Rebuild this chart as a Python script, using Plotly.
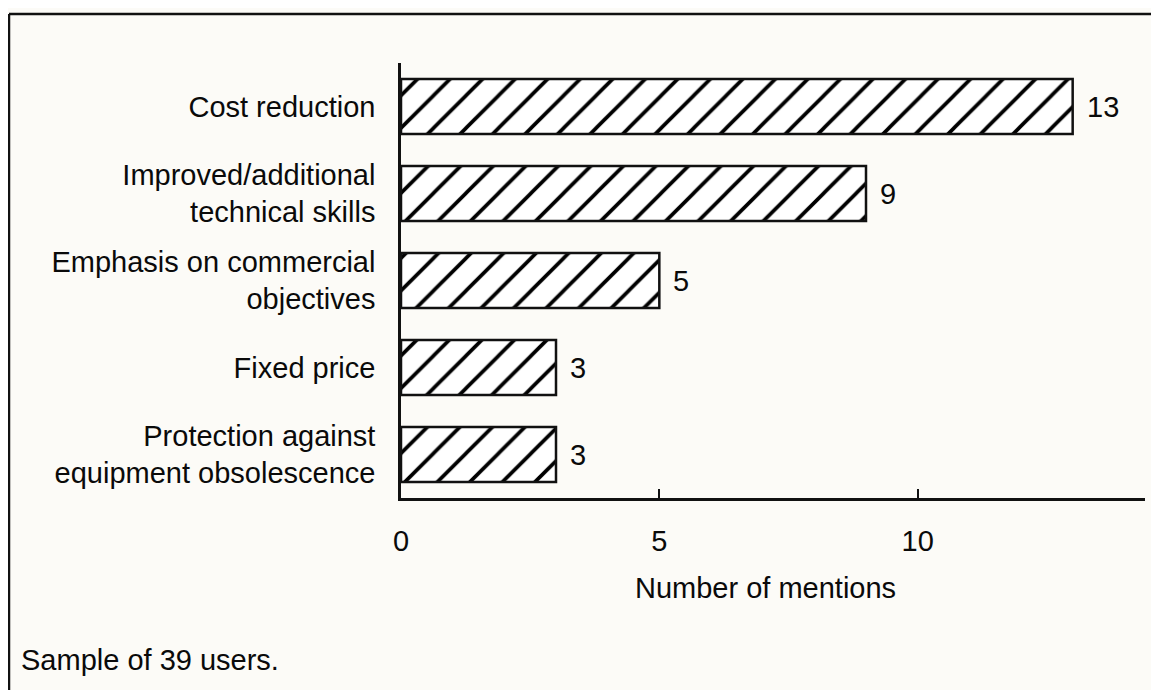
import plotly.graph_objects as go

# data
categories = [
    "Cost reduction",
    "Improved/additional<br>technical skills",
    "Emphasis on commercial<br>objectives",
    "Fixed price",
    "Protection against<br>equipment obsolescence",
]
mentions = [13, 9, 5, 3, 3]
tick_vals = [0, 5, 10]
x_title = "Number of mentions"
footnote = "Sample of 39 users."

W, H = 1159, 690
OFF = 8  # page body margin shifts the figure by this much
L, T = 401 - OFF, 63 - OFF
R = W - (1145 - OFF)
B = H - (498 - OFF)
FONT = dict(family="Liberation Sans, Arial, Helvetica, sans-serif", size=29, color="#0a0a0a")
BG = "#fcfbf7"


def px_x(px):
    # screen pixel -> paper x
    return (px - OFF - L) / (W - L - R)


def px_y(py):
    # screen pixel -> paper y
    return (H - B - (py - OFF)) / (H - T - B)


fig = go.Figure()
fig.add_trace(go.Bar(
    y=categories,
    x=mentions,
    orientation="h",
    width=0.63,
    marker=dict(
        color="white",
        line=dict(color="#111111", width=2.5),
        pattern=dict(shape="/", fgcolor="#000000", bgcolor="white",
                     fgopacity=1, size=23, solidity=0.16),
    ),
    hoverinfo="x+y",
    showlegend=False,
))

# value labels at bar ends
for cat, val in zip(categories, mentions):
    fig.add_annotation(x=val, y=cat, text=str(val), showarrow=False,
                       xanchor="left", yanchor="middle", xshift=12,
                       font=FONT)

fig.add_annotation(x=px_x(765), y=px_y(588), xref="paper", yref="paper",
                   text=x_title, showarrow=False, xanchor="center",
                   yanchor="middle", font=FONT)
fig.add_annotation(x=px_x(19), y=px_y(660), xref="paper", yref="paper",
                   text=footnote, showarrow=False, xanchor="left",
                   yanchor="middle", font=FONT)

# frame: top and left edges only
fig.add_shape(type="line", xref="paper", yref="paper",
              x0=px_x(9), x1=px_x(W + 20), y0=px_y(14), y1=px_y(14),
              line=dict(color="#111111", width=2.5))
fig.add_shape(type="line", xref="paper", yref="paper",
              x0=px_x(9), x1=px_x(9), y0=px_y(14), y1=px_y(H + 20),
              line=dict(color="#111111", width=2.5))

fig.update_xaxes(
    range=[0, 14.4],
    tickvals=tick_vals,
    ticks="inside", ticklen=9, tickwidth=2, tickcolor="#111111",
    showline=True, linecolor="#111111", linewidth=2.5,
    showgrid=False, zeroline=False,
    tickfont=FONT, ticklabelstandoff=15,
)
fig.update_yaxes(
    autorange="reversed",
    showline=True, linecolor="#111111", linewidth=2.5,
    showgrid=False, zeroline=False, ticks="",
    tickfont=FONT, ticklabelstandoff=17,
)

fig.update_layout(
    width=W, height=H,
    margin=dict(l=L, r=R, t=T, b=B, autoexpand=False),
    paper_bgcolor=BG, plot_bgcolor=BG,
    bargap=0.37,
)

fig.write_html("out.html")
